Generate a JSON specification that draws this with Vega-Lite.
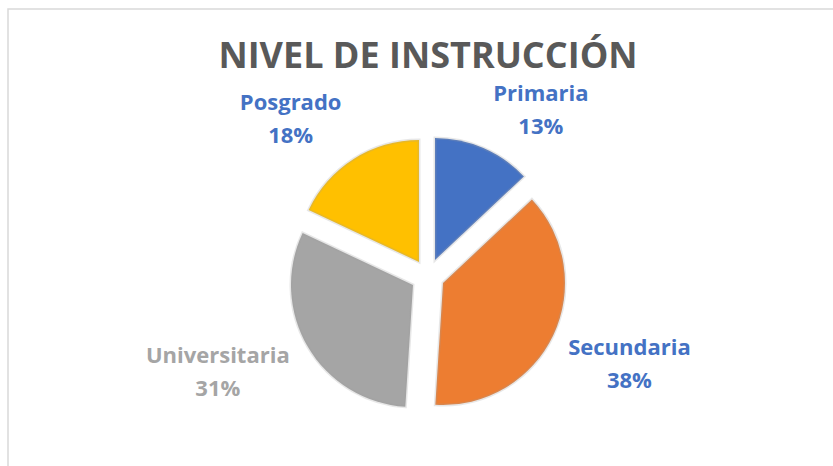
{
  "$schema": "https://vega.github.io/schema/vega-lite/v6.json",
  "width": 840,
  "height": 534,
  "autosize": {"type": "none"},
  "padding": {"left": 8, "top": 9, "right": 0, "bottom": 0},
  "background": "white",
  "view": {"stroke": "#D9D9D9", "strokeWidth": 1.5},
  "title": {
    "text": "NIVEL DE INSTRUCCIÓN",
    "font": "Open Sans",
    "fontSize": 36,
    "fontWeight": "bold",
    "color": "#595959",
    "anchor": "middle",
    "frame": "group",
    "offset": -67
  },
  "config": {"view": {"stroke": "#D9D9D9", "strokeWidth": 1.5}},
  "data": {
    "values": [
      {"cat": "Primaria", "pct": 13, "orden": 1, "label": "Primaria\n13%"},
      {"cat": "Secundaria", "pct": 38, "orden": 2, "label": "Secundaria\n38%"},
      {"cat": "Universitaria", "pct": 31, "orden": 3, "label": "Universitaria\n31%"},
      {"cat": "Posgrado", "pct": 18, "orden": 4, "label": "Posgrado\n18%"}
    ]
  },
  "transform": [
    {"stack": "pct", "groupby": [], "sort": [{"field": "orden", "order": "ascending"}], "as": ["t0", "t1"]}
  ],
  "layer": [
    {
      "transform": [{"filter": "datum.cat === 'Primaria'"}],
      "mark": {"type": "arc", "radius": 122, "xOffset": 7, "yOffset": -16, "stroke": "#a0a0a0", "strokeOpacity": 0.25, "strokeWidth": 3},
      "encoding": {
        "theta": {"field": "t0", "type": "quantitative", "scale": {"domain": [0, 100]}},
        "theta2": {"field": "t1"},
        "color": {"field": "cat", "type": "nominal", "legend": null,
          "scale": {"domain": ["Primaria", "Secundaria", "Universitaria", "Posgrado"], "range": ["#4472C4", "#ED7D31", "#A5A5A5", "#FFC000"]}}
      }
    },
    {
      "transform": [{"filter": "datum.cat === 'Secundaria'"}],
      "mark": {"type": "arc", "radius": 122, "xOffset": 15, "yOffset": 7, "stroke": "#a0a0a0", "strokeOpacity": 0.25, "strokeWidth": 3},
      "encoding": {
        "theta": {"field": "t0", "type": "quantitative", "scale": {"domain": [0, 100]}},
        "theta2": {"field": "t1"},
        "color": {"field": "cat", "type": "nominal", "legend": null}
      }
    },
    {
      "transform": [{"filter": "datum.cat === 'Universitaria'"}],
      "mark": {"type": "arc", "radius": 122, "xOffset": -15, "yOffset": 9, "stroke": "#a0a0a0", "strokeOpacity": 0.25, "strokeWidth": 3},
      "encoding": {
        "theta": {"field": "t0", "type": "quantitative", "scale": {"domain": [0, 100]}},
        "theta2": {"field": "t1"},
        "color": {"field": "cat", "type": "nominal", "legend": null}
      }
    },
    {
      "transform": [{"filter": "datum.cat === 'Posgrado'"}],
      "mark": {"type": "arc", "radius": 122, "xOffset": -9, "yOffset": -14, "stroke": "#a0a0a0", "strokeOpacity": 0.25, "strokeWidth": 3},
      "encoding": {
        "theta": {"field": "t0", "type": "quantitative", "scale": {"domain": [0, 100]}},
        "theta2": {"field": "t1"},
        "color": {"field": "cat", "type": "nominal", "legend": null}
      }
    },
    {
      "mark": {"type": "text", "radius": 214, "font": "Open Sans", "fontSize": 22, "fontWeight": "bold", "fill": "#4472C4", "lineBreak": "\n", "lineHeight": 33, "align": "center", "baseline": "middle"},
      "encoding": {
        "theta": {"field": "pct", "type": "quantitative", "stack": true, "bandPosition": 0.68, "scale": {"domain": [0, 100]}},
        "order": {"field": "orden", "type": "quantitative"},
        "detail": {"field": "cat", "type": "nominal"},
        "text": {"condition": {"test": "datum.cat === 'Primaria'", "field": "label", "type": "nominal"}, "value": ""}
      }
    },
    {
      "mark": {"type": "text", "radius": 214, "font": "Open Sans", "fontSize": 22, "fontWeight": "bold", "fill": "#4472C4", "lineBreak": "\n", "lineHeight": 33, "align": "center", "baseline": "middle"},
      "encoding": {
        "theta": {"field": "pct", "type": "quantitative", "stack": true, "bandPosition": 0.46, "scale": {"domain": [0, 100]}},
        "order": {"field": "orden", "type": "quantitative"},
        "detail": {"field": "cat", "type": "nominal"},
        "text": {"condition": {"test": "datum.cat === 'Secundaria'", "field": "label", "type": "nominal"}, "value": ""}
      }
    },
    {
      "mark": {"type": "text", "radius": 225, "font": "Open Sans", "fontSize": 22, "fontWeight": "bold", "fill": "#A5A5A5", "lineBreak": "\n", "lineHeight": 33, "align": "center", "baseline": "middle"},
      "encoding": {
        "theta": {"field": "pct", "type": "quantitative", "stack": true, "bandPosition": 0.587, "scale": {"domain": [0, 100]}},
        "order": {"field": "orden", "type": "quantitative"},
        "detail": {"field": "cat", "type": "nominal"},
        "text": {"condition": {"test": "datum.cat === 'Universitaria'", "field": "label", "type": "nominal"}, "value": ""}
      }
    },
    {
      "mark": {"type": "text", "radius": 221, "font": "Open Sans", "fontSize": 22, "fontWeight": "bold", "fill": "#4472C4", "lineBreak": "\n", "lineHeight": 33, "align": "center", "baseline": "middle"},
      "encoding": {
        "theta": {"field": "pct", "type": "quantitative", "stack": true, "bandPosition": 0.407, "scale": {"domain": [0, 100]}},
        "order": {"field": "orden", "type": "quantitative"},
        "detail": {"field": "cat", "type": "nominal"},
        "text": {"condition": {"test": "datum.cat === 'Posgrado'", "field": "label", "type": "nominal"}, "value": ""}
      }
    }
  ]
}
